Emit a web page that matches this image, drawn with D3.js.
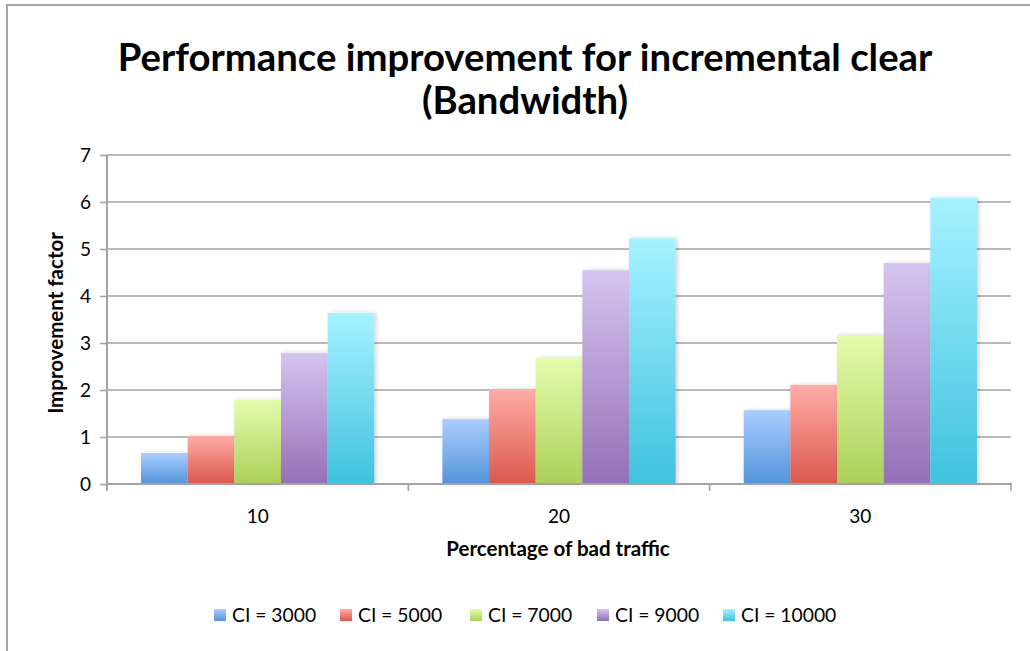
<!DOCTYPE html>
<html>
<head>
<meta charset="utf-8">
<script src="https://cdn.jsdelivr.net/npm/d3@7"></script>
<style>
  html, body { margin: 0; padding: 0; background: #fff; }
  svg { display: block; }
  text { font-family: Lato, "Open Sans", sans-serif; fill: #000; }
</style>
</head>
<body>
<svg id="chart" width="1030" height="651"></svg>
<script>
// Categories (percentage of bad traffic) and series (CI values)
const categories = ["10", "20", "30"];
const seriesNames = ["CI = 3000", "CI = 5000", "CI = 7000", "CI = 9000", "CI = 10000"];
const ci3000  = [0.66, 1.38, 1.57];
const ci5000  = [1.02, 2.02, 2.11];
const ci7000  = [1.79, 2.68, 3.17];
const ci9000  = [2.79, 4.55, 4.70];
const ci10000 = [3.64, 5.23, 6.09];
const yTicks = [0, 1, 2, 3, 4, 5, 6, 7];

const seriesValues = [ci3000, ci5000, ci7000, ci9000, ci10000];
// gradient stops per series: [top, bottom]
const seriesColors = [
  ["#abcdff", "#5394d9"],
  ["#ffaca7", "#db584d"],
  ["#e4fcac", "#acd05a"],
  ["#d6c4f0", "#9470b6"],
  ["#a7f2ff", "#3fc2de"]
];

const svg = d3.select("#chart");
const defs = svg.append("defs");

seriesColors.forEach((c, i) => {
  const g = defs.append("linearGradient")
    .attr("id", "grad" + i).attr("x1", 0).attr("y1", 0).attr("x2", 0).attr("y2", 1);
  g.append("stop").attr("offset", "0%").attr("stop-color", c[0]);
  g.append("stop").attr("offset", "100%").attr("stop-color", c[1]);
});

const shadow = defs.append("filter").attr("id", "barShadow")
  .attr("x", "-20%").attr("y", "-5%").attr("width", "150%").attr("height", "110%");
shadow.append("feDropShadow").attr("dx", 2).attr("dy", 0)
  .attr("stdDeviation", 2).attr("flood-color", "#000").attr("flood-opacity", 0.18);

// outer chart frame
svg.append("rect")
  .attr("x", 7).attr("y", 5).attr("width", 1040).attr("height", 660)
  .attr("fill", "none").attr("stroke", "#a6a6a6").attr("stroke-width", 2);

// Title
const title = svg.append("text")
  .attr("x", 525).attr("text-anchor", "middle")
  .style("font-weight", "bold").style("font-size", "38.3px");
title.append("tspan").attr("x", 525).attr("y", 71).text("Performance improvement for incremental clear");
title.append("tspan").attr("x", 525).attr("y", 114).text("(Bandwidth)");

// Scales
const x0 = d3.scaleBand().domain(categories).range([107, 1011]).paddingInner(0).paddingOuter(0);
const x1 = d3.scaleBand().domain(d3.range(seriesNames.length))
  .range([0, x0.bandwidth()]).paddingInner(0).paddingOuter(0.73);
const y = d3.scaleLinear().domain([0, 7]).range([484, 155]);

// Gridlines
svg.append("g").selectAll("line").data(yTicks.filter(d => d > 0)).join("line")
  .attr("x1", 107).attr("x2", 1011)
  .attr("y1", d => y(d)).attr("y2", d => y(d))
  .attr("stroke", "#a3a3a3").attr("stroke-width", 1.6);

// Bars
const groups = svg.append("g").selectAll("g").data(categories).join("g")
  .attr("transform", d => `translate(${x0(d)},0)`);
groups.selectAll("rect")
  .data((cat, ci) => seriesValues.map((vals, si) => ({ si, v: vals[ci] })))
  .join("rect")
  .attr("x", d => x1(d.si))
  .attr("y", d => y(d.v))
  .attr("width", x1.bandwidth())
  .attr("height", d => y(0) - y(d.v))
  .attr("fill", d => `url(#grad${d.si})`)
  .attr("filter", "url(#barShadow)");

// Y axis
const yAxis = d3.axisLeft(y).tickValues(yTicks).tickSize(7).tickPadding(9).tickFormat(d3.format("d"));
const yg = svg.append("g").attr("transform", "translate(107,0)").call(yAxis);
yg.select(".domain").remove();
yg.selectAll(".tick line").attr("stroke", "#a3a3a3").attr("stroke-width", 1.6);
yg.selectAll(".tick text").style("font-size", "19px").attr("fill", "#000")
  .style("font-family", "Lato, sans-serif");
svg.append("line").attr("x1", 107).attr("x2", 107).attr("y1", 155).attr("y2", 490)
  .attr("stroke", "#a3a3a3").attr("stroke-width", 2);

// X axis
const xAxis = d3.axisBottom(x0).tickSize(0).tickPadding(26);
const xg = svg.append("g").attr("transform", `translate(0,${y(0)})`).call(xAxis);
xg.select(".domain").remove();
xg.selectAll(".tick text").style("font-size", "19px").attr("fill", "#000")
  .style("font-family", "Lato, sans-serif");
svg.append("line").attr("x1", 106).attr("x2", 1012).attr("y1", y(0)).attr("y2", y(0))
  .attr("stroke", "#a3a3a3").attr("stroke-width", 2);
// category separator ticks
const sepTicks = categories.map(c => x0(c)).concat([x0.range()[1]]);
svg.append("g").selectAll("line").data(sepTicks).join("line")
  .attr("x1", d => d).attr("x2", d => d).attr("y1", y(0)).attr("y2", y(0) + 7)
  .attr("stroke", "#a3a3a3").attr("stroke-width", 1.6);

// Axis titles
svg.append("text")
  .attr("transform", "translate(63,323) rotate(-90)")
  .attr("text-anchor", "middle")
  .style("font-weight", "bold").style("font-size", "20.5px")
  .text("Improvement factor");
svg.append("text")
  .attr("x", 558).attr("y", 556).attr("text-anchor", "middle")
  .style("font-weight", "bold").style("font-size", "20.5px")
  .text("Percentage of bad traffic");

// Legend
const legendX = [214, 340, 470, 597, 723];
const legend = svg.append("g").selectAll("g").data(seriesNames).join("g")
  .attr("transform", (d, i) => `translate(${legendX[i]},609)`);
legend.append("rect").attr("width", 12).attr("height", 12)
  .attr("fill", (d, i) => `url(#grad${i})`);
legend.append("text").attr("x", 18).attr("y", 13)
  .style("font-size", "19.3px").text(d => d);
</script>
</body>
</html>
